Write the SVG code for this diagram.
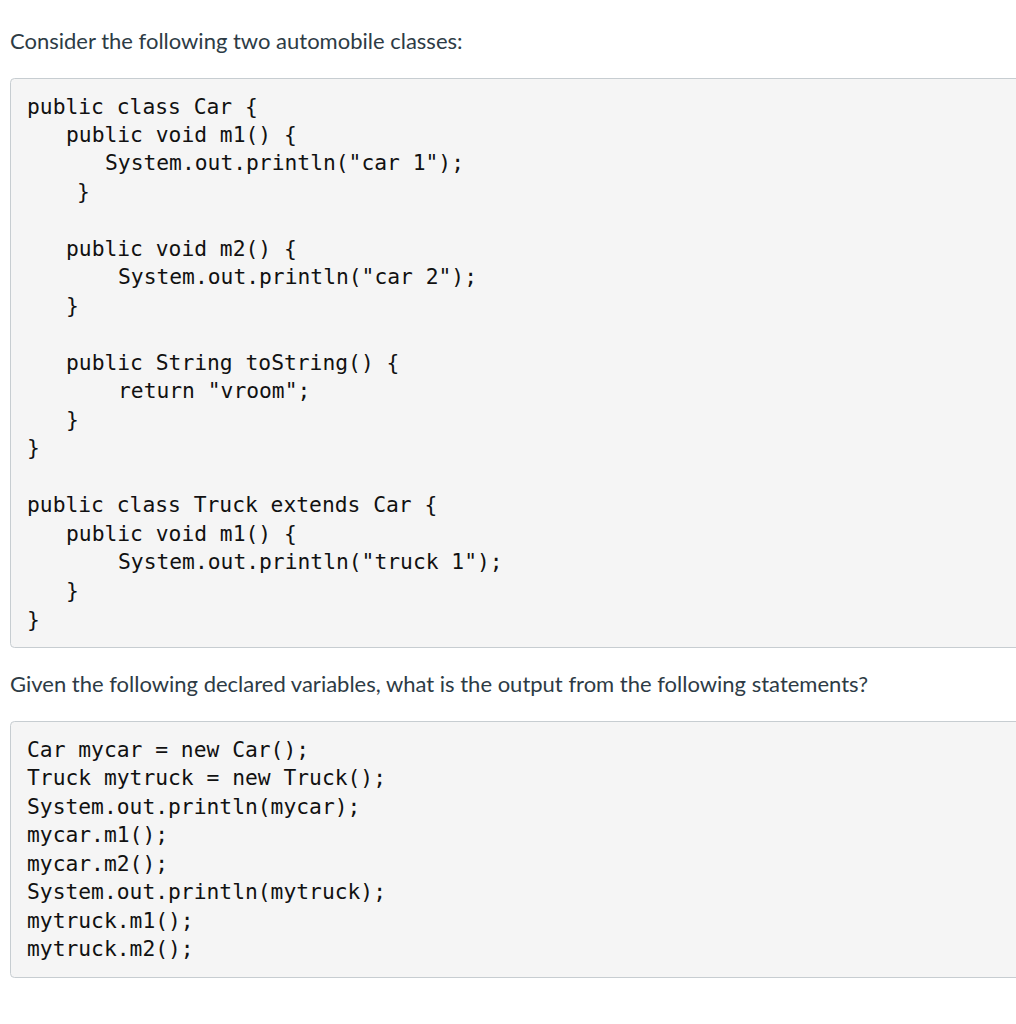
<svg xmlns="http://www.w3.org/2000/svg" width="1016" height="1024" viewBox="0 0 1016 1024">
<style>
.h{font-family:Lato,"Liberation Sans",sans-serif;font-size:22px;fill:#2d3b45}
.c{font-family:"DejaVu Sans Mono","Liberation Mono",monospace;font-size:21.3px;fill:#111;white-space:pre}
.box{fill:#f5f5f5;stroke:#c7cdd1;stroke-width:1}
</style>
<rect width="1016" height="1024" fill="#fff"/>
<text class="h" x="10" y="49">Consider the following two automobile classes:</text>
<g id="code1">
<rect class="box" x="10.5" y="78.5" width="1020" height="569" rx="4"/>
<text class="c" xml:space="preserve"><tspan x="27" y="114">public class Car {</tspan><tspan x="66" y="142">public void m1() {</tspan><tspan x="105" y="170">System.out.println("car 1");</tspan><tspan x="77" y="199">}</tspan><tspan x="66" y="256">public void m2() {</tspan><tspan x="118" y="284">System.out.println("car 2");</tspan><tspan x="66" y="313">}</tspan><tspan x="66" y="370">public String toString() {</tspan><tspan x="118" y="398">return "vroom";</tspan><tspan x="66" y="427">}</tspan><tspan x="27" y="455">}</tspan><tspan x="27" y="512">public class Truck extends Car {</tspan><tspan x="66" y="541">public void m1() {</tspan><tspan x="118" y="569">System.out.println("truck 1");</tspan><tspan x="66" y="598">}</tspan><tspan x="27" y="627">}</tspan></text>
</g>
<text class="h" x="10" y="692">Given the following declared variables, what is the output from the following statements?</text>
<g id="code2">
<rect class="box" x="10.5" y="721.5" width="1020" height="256" rx="4"/>
<text class="c" xml:space="preserve"><tspan x="27" y="757">Car mycar = new Car();</tspan><tspan x="27" y="785">Truck mytruck = new Truck();</tspan><tspan x="27" y="814">System.out.println(mycar);</tspan><tspan x="27" y="842">mycar.m1();</tspan><tspan x="27" y="871">mycar.m2();</tspan><tspan x="27" y="899">System.out.println(mytruck);</tspan><tspan x="27" y="928">mytruck.m1();</tspan><tspan x="27" y="956">mytruck.m2();</tspan></text>
</g>
</svg>
